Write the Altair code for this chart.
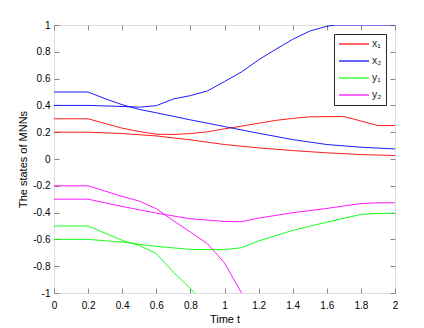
import altair as alt
import pandas as pd

series_names = ["x₁", "x₂", "y₁", "y₂"]
series_colors = ["#ff0000", "#0000ff", "#00ff00", "#ff00ff"]

# x1, two trajectories
x1a_t = [0, 0.2, 0.4, 0.5, 0.6, 0.7, 0.8, 0.9, 1.0, 1.1, 1.2, 1.3, 1.4, 1.5, 1.7, 1.9, 2.0]
x1a_v = [0.3, 0.3, 0.23, 0.205, 0.185, 0.183, 0.19, 0.203, 0.225, 0.245, 0.267, 0.288, 0.303, 0.315, 0.317, 0.25, 0.25]
x1b_t = [0, 0.2, 0.4, 0.6, 0.8, 1.0, 1.2, 1.4, 1.6, 1.8, 2.0]
x1b_v = [0.2, 0.2, 0.19, 0.172, 0.143, 0.108, 0.083, 0.063, 0.046, 0.033, 0.026]

# x2
x2a_t = [0, 0.2, 0.3, 0.4, 0.5, 0.6, 0.8, 1.0, 1.2, 1.4, 1.6, 1.8, 2.0]
x2a_v = [0.5, 0.5, 0.45, 0.405, 0.37, 0.345, 0.292, 0.242, 0.192, 0.145, 0.108, 0.088, 0.075]
x2b_t = [0, 0.2, 0.4, 0.5, 0.6, 0.7, 0.8, 0.9, 1.0, 1.1, 1.2, 1.3, 1.4, 1.5, 1.6, 1.65, 2.0]
x2b_v = [0.4, 0.4, 0.392, 0.387, 0.398, 0.448, 0.473, 0.508, 0.578, 0.65, 0.74, 0.818, 0.893, 0.955, 0.99, 1.0, 1.0]

# y1
y1a_t = [0, 0.2, 0.4, 0.5, 0.6, 0.7, 0.8, 0.9]
y1a_v = [-0.5, -0.5, -0.607, -0.645, -0.706, -0.845, -0.967, -1.1]
y1b_t = [0, 0.2, 0.4, 0.6, 0.8, 1.0, 1.1, 1.2, 1.4, 1.6, 1.8, 1.9, 2.0]
y1b_v = [-0.6, -0.6, -0.62, -0.652, -0.675, -0.677, -0.662, -0.612, -0.533, -0.471, -0.414, -0.406, -0.405]

# y2
y2a_t = [0, 0.2, 0.4, 0.5, 0.6, 0.7, 0.8, 0.9, 1.0, 1.1, 1.2]
y2a_v = [-0.2, -0.2, -0.279, -0.314, -0.371, -0.46, -0.545, -0.632, -0.776, -1.0, -1.22]
y2b_t = [0, 0.2, 0.4, 0.6, 0.8, 1.0, 1.1, 1.2, 1.4, 1.6, 1.8, 1.9, 2.0]
y2b_v = [-0.3, -0.3, -0.354, -0.404, -0.446, -0.466, -0.468, -0.441, -0.401, -0.369, -0.332, -0.327, -0.327]

x_ticks = [0, 0.2, 0.4, 0.6, 0.8, 1, 1.2, 1.4, 1.6, 1.8, 2]
y_ticks = [-1, -0.8, -0.6, -0.4, -0.2, 0, 0.2, 0.4, 0.6, 0.8, 1]

series = [
    ("x₁", "a", x1a_t, x1a_v), ("x₁", "b", x1b_t, x1b_v),
    ("x₂", "a", x2a_t, x2a_v), ("x₂", "b", x2b_t, x2b_v),
    ("y₁", "a", y1a_t, y1a_v), ("y₁", "b", y1b_t, y1b_v),
    ("y₂", "a", y2a_t, y2a_v), ("y₂", "b", y2b_t, y2b_v),
]
rows = []
for name, traj, ts, vs in series:
    for t, v in zip(ts, vs):
        rows.append({"t": t, "v": v, "var": name, "traj": name + traj})
df = pd.DataFrame(rows)

FONT = "Liberation Sans"
DARK = "#262626"
label_expr = "toString(round(datum.value*10)/10)"

x_scale = alt.Scale(domain=[0, 2], nice=False, zero=False)
y_scale = alt.Scale(domain=[-1, 1], nice=False, zero=False)

lines = alt.Chart(df).mark_line(strokeWidth=0.9, clip=True).encode(
    x=alt.X("t:Q", scale=x_scale, axis=alt.Axis(
        orient="bottom", values=x_ticks, labelExpr=label_expr, title="Time t",
        offset=-5, tickSize=5, domain=False, grid=False, labelPadding=7,
        titlePadding=3, labelFlush=False, labelOverlap=False, titleFontWeight="normal")),
    y=alt.Y("v:Q", scale=y_scale, axis=alt.Axis(
        orient="left", values=y_ticks, labelExpr=label_expr, title="The states of MNNs",
        offset=-5, tickSize=5, domain=False, grid=False, labelPadding=4,
        titlePadding=4, labelFlush=False, labelOverlap=False, titleFontWeight="normal")),
    color=alt.Color("var:N", scale=alt.Scale(domain=series_names, range=series_colors),
                    legend=alt.Legend(orient="none", legendX=280, legendY=9, title=None,
                                      symbolType="M-1,0H5", symbolSize=100, symbolStrokeWidth=1.2,
                                      labelFont=FONT, labelFontSize=10.5, labelColor=DARK,
                                      strokeColor=DARK, fillColor="white", padding=4,
                                      rowPadding=5, labelOffset=22)),
    detail="traj:N",
    order="t:Q",
)

mirror = alt.Chart(df).mark_line(strokeOpacity=0).encode(
    x=alt.X("t:Q", scale=x_scale, axis=alt.Axis(
        orient="top", values=x_ticks, labels=False, title=None,
        offset=-5, tickSize=5, domain=False, grid=False)),
    y=alt.Y("v:Q", scale=y_scale, axis=alt.Axis(
        orient="right", values=y_ticks, labels=False, title=None,
        offset=-5, tickSize=5, domain=False, grid=False)),
    detail="traj:N",
)

chart = alt.layer(lines, mirror).resolve_axis(x="independent", y="independent").properties(
    width=341, height=268, autosize="none",
    padding={"left": 46, "top": 17, "right": 20, "bottom": 34},
).configure_view(stroke=DARK, strokeWidth=1).configure_axis(
    labelFont=FONT, labelFontSize=10, labelColor=DARK, tickColor=DARK, tickWidth=1,
    titleFont=FONT, titleFontSize=10.5, titleColor=DARK, titleFontWeight="normal",
).configure(background="white")

chart.save("out.html", embed_options={"renderer": "svg", "actions": False})
